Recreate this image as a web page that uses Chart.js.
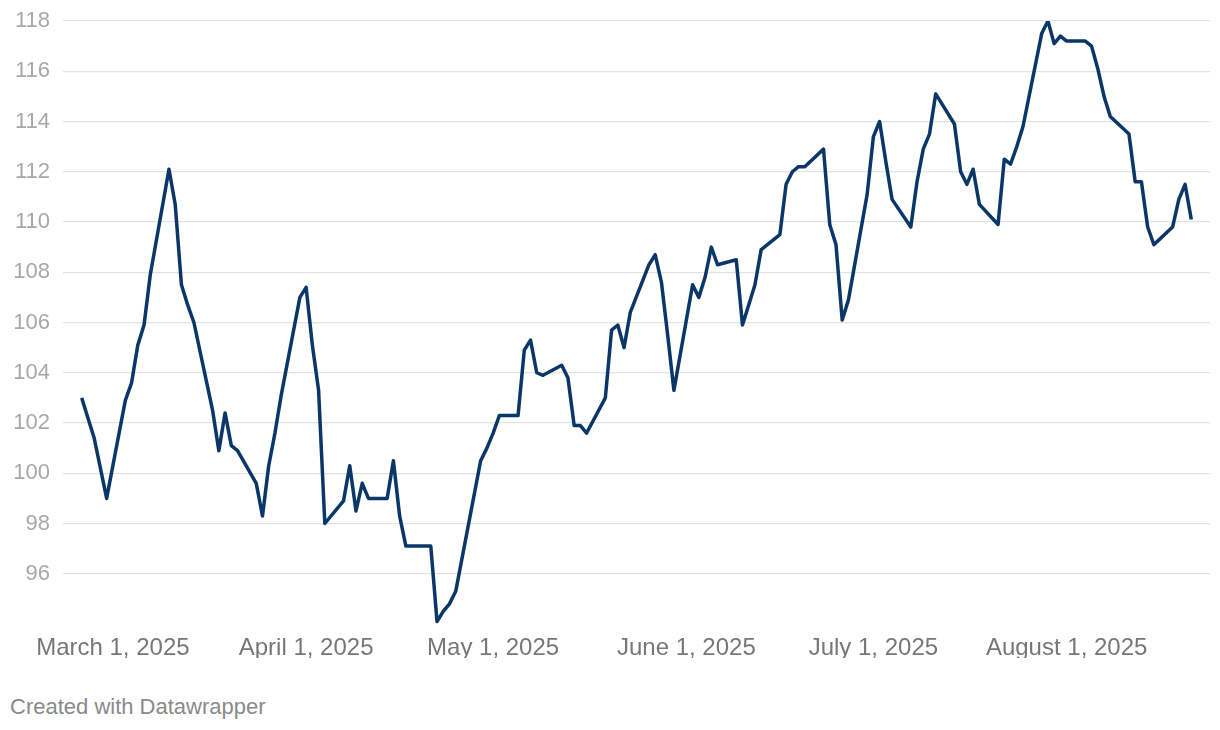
<!DOCTYPE html>
<html>
<head>
<meta charset="utf-8">
<script src="https://cdn.jsdelivr.net/npm/chart.js@4.4.1/dist/chart.umd.min.js"></script>
<style>
    html, body { margin: 0; padding: 0; background: #fff; }
    #wrap { position: relative; width: 1220px; height: 730px; }
    #chartBox { position: absolute; left: 0; top: 0; width: 1220px; height: 658px; }
    #credit {
        position: absolute; left: 10px; top: 694px;
        font-family: "Liberation Sans", Arial, sans-serif;
        font-size: 22px; color: #8a8a8a;
    }
</style>
</head>
<body>
<div id="wrap">
    <div id="chartBox"><canvas id="lineChart"></canvas></div>
    <div id="credit">Created with Datawrapper</div>
</div>
<script>
// trading days
const dates = [
    '2025-02-24','2025-02-25','2025-02-26','2025-02-27','2025-02-28',
    '2025-03-03','2025-03-04','2025-03-05','2025-03-06','2025-03-07',
    '2025-03-10','2025-03-11','2025-03-12','2025-03-13','2025-03-14',
    '2025-03-17','2025-03-18','2025-03-19','2025-03-20','2025-03-21',
    '2025-03-24','2025-03-25','2025-03-26','2025-03-27','2025-03-28',
    '2025-03-31','2025-04-01','2025-04-02','2025-04-03','2025-04-04',
    '2025-04-07','2025-04-08','2025-04-09','2025-04-10','2025-04-11',
    '2025-04-14','2025-04-15','2025-04-16','2025-04-17',
    '2025-04-21','2025-04-22','2025-04-23','2025-04-24','2025-04-25',
    '2025-04-28','2025-04-29','2025-04-30','2025-05-01','2025-05-02',
    '2025-05-05','2025-05-06','2025-05-07','2025-05-08','2025-05-09',
    '2025-05-12','2025-05-13','2025-05-14','2025-05-15','2025-05-16',
    '2025-05-19','2025-05-20','2025-05-21','2025-05-22','2025-05-23',
    '2025-05-26','2025-05-27','2025-05-28','2025-05-29','2025-05-30',
    '2025-06-02','2025-06-03','2025-06-04','2025-06-05','2025-06-06',
    '2025-06-09','2025-06-10','2025-06-11','2025-06-12','2025-06-13',
    '2025-06-16','2025-06-17','2025-06-18','2025-06-19','2025-06-20',
    '2025-06-23','2025-06-24','2025-06-25','2025-06-26','2025-06-27',
    '2025-06-30','2025-07-01','2025-07-02','2025-07-03','2025-07-04',
    '2025-07-07','2025-07-08','2025-07-09','2025-07-10','2025-07-11',
    '2025-07-14','2025-07-15','2025-07-16','2025-07-17','2025-07-18',
    '2025-07-21','2025-07-22','2025-07-23','2025-07-24','2025-07-25',
    '2025-07-28','2025-07-29','2025-07-30','2025-07-31','2025-08-01',
    '2025-08-04','2025-08-05','2025-08-06','2025-08-07','2025-08-08',
    '2025-08-11','2025-08-12','2025-08-13','2025-08-14','2025-08-15',
    '2025-08-18','2025-08-19','2025-08-20','2025-08-21'
];

const values = [
    103.0, 102.2, 101.4, 100.2, 99.0,
    102.9, 103.6, 105.1, 105.9, 107.9,
    112.1, 110.7, 107.5, 106.7, 106.0,
    102.5, 100.9, 102.4, 101.1, 100.9,
    99.6, 98.3, 100.3, 101.6, 103.1,
    107.0, 107.4, 105.1, 103.3, 98.0,
    98.9, 100.3, 98.5, 99.6, 99.0,
    99.0, 100.5, 98.3, 97.1,
    97.1, 94.1, 94.5, 94.8, 95.3,
    99.2, 100.5, 101.0, 101.6, 102.3,
    102.3, 104.9, 105.3, 104.0, 103.9,
    104.3, 103.8, 101.9, 101.9, 101.6,
    103.0, 105.7, 105.9, 105.0, 106.4,
    108.3, 108.7, 107.6, 105.5, 103.3,
    107.5, 107.0, 107.8, 109.0, 108.3,
    108.5, 105.9, 106.7, 107.5, 108.9,
    109.5, 111.5, 112.0, 112.2, 112.2,
    112.9, 109.9, 109.1, 106.1, 106.9,
    111.1, 113.4, 114.0, 112.4, 110.9,
    109.8, 111.6, 112.9, 113.5, 115.1,
    113.9, 112.0, 111.5, 112.1, 110.7,
    109.9, 112.5, 112.3, 113.0, 113.8,
    117.5, 118.0, 117.1, 117.4, 117.2,
    117.2, 117.0, 116.1, 115.0, 114.2,
    113.5, 111.6, 111.6, 109.8, 109.1,
    109.8, 110.9, 111.5, 110.1
];

const tickDates = ['2025-03-01','2025-04-01','2025-05-01','2025-06-01','2025-07-01','2025-08-01'];
const tickLabels = ['March 1, 2025','April 1, 2025','May 1, 2025','June 1, 2025','July 1, 2025','August 1, 2025'];
const yTicks = [96, 98, 100, 102, 104, 106, 108, 110, 112, 114, 116, 118];

const DAY = 86400000;
const origin = Date.UTC(2025, 2, 1);

function dayIndex(iso) {
    const p = iso.split('-').map(Number);
    return Math.round((Date.UTC(p[0], p[1] - 1, p[2]) - origin) / DAY);
}

const points = dates.map((d, i) => ({ x: dayIndex(d), y: values[i] }));
const xTickPos = tickDates.map(dayIndex);

const FONT = '"Liberation Sans", Arial, Helvetica, sans-serif';

new Chart(document.getElementById('lineChart').getContext('2d'), {
    type: 'line',
    data: {
        datasets: [{
            data: points,
            borderColor: '#0b3668',
            borderWidth: 3.5,
            borderJoinStyle: 'round',
            pointRadius: 0,
            tension: 0,
            fill: false
        }]
    },
    options: {
        responsive: true,
        maintainAspectRatio: false,
        animation: false,
        layout: { padding: { left: 13, right: 10, top: 21, bottom: 0 } },
        plugins: { legend: { display: false }, tooltip: { enabled: false } },
        scales: {
            x: {
                type: 'linear',
                min: -8,
                max: 176,
                border: { display: false },
                grid: { display: false, drawTicks: false },
                afterBuildTicks: function(axis) {
                    axis.ticks = xTickPos.map(v => ({ value: v }));
                },
                afterFit: function(axis) { axis.height = 34; },
                ticks: {
                    autoSkip: false,
                    maxRotation: 0,
                    padding: 10,
                    color: '#777777',
                    font: { family: FONT, size: 24 },
                    callback: function(value) {
                        const i = xTickPos.indexOf(value);
                        return i >= 0 ? tickLabels[i] : '';
                    }
                }
            },
            y: {
                min: 94,
                max: 118,
                border: { display: false },
                grid: { color: '#e2e2e2', lineWidth: 1.3, drawTicks: false },
                afterBuildTicks: function(axis) {
                    axis.ticks = yTicks.map(v => ({ value: v }));
                },
                afterFit: function(axis) { axis.width = 50; },
                ticks: {
                    padding: 13,
                    color: '#a8a8a8',
                    font: { family: FONT, size: 22, lineHeight: 0.7 }
                }
            }
        }
    }
});
</script>
</body>
</html>
